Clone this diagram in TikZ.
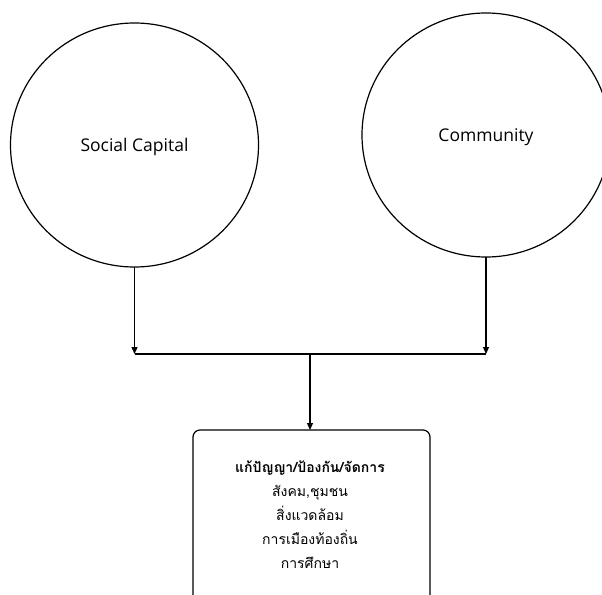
\documentclass[tikz,border=0pt]{standalone}
\usepackage{fontspec}
\setmainfont{Open Sans}
\newfontfamily\thaifont[Script=Thai]{Loma}
\usetikzlibrary{arrows.meta}
\begin{document}
\begin{tikzpicture}[x=1pt,y=-1pt,
  conn/.style={line width=1.2pt},
  arr/.style={conn,-{Triangle[length=7pt,width=6pt]}},
  lbl/.style={font=\fontsize{17.5}{20}\selectfont},
  thaitxt/.style={font=\thaifont\fontsize{14}{24}\selectfont,align=center}]
\useasboundingbox (0,0) rectangle (602,594);
\draw[line width=1.2pt] (134.5,145) ellipse [x radius=124, y radius=122];
\draw[line width=1.2pt] (486,135) ellipse [x radius=124, y radius=122];
\node[lbl] (sc) at (134.5,147) {Social Capital};
\node[lbl] (cm) at (486,137) {Community};
\coordinate (scb) at (134.5,267);
\coordinate (cmb) at (486,257);
\coordinate (jl) at (134.5,354);
\coordinate (jr) at (486,354);
\coordinate (jm) at (310,354);
\draw[rounded corners=7pt,line width=1.2pt] (193,610) -- (193,430) -- (430,430) -- (430,610);
\coordinate (boxtop) at (310,430);
\draw[arr] (scb) -- (jl);
\draw[arr] (cmb) -- (jr);
\draw[conn] (jl) -- (jr);
\draw[arr] (jm) -- (boxtop);
\node[thaitxt,anchor=north] (txt) at (310,457) {\textbf{แก้ปัญญา/ป้องกัน/จัดการ}\\สังคม,ชุมชน\\สิ่งแวดล้อม\\การเมืองท้องถิ่น\\การศึกษา};
\end{tikzpicture}
\end{document}
